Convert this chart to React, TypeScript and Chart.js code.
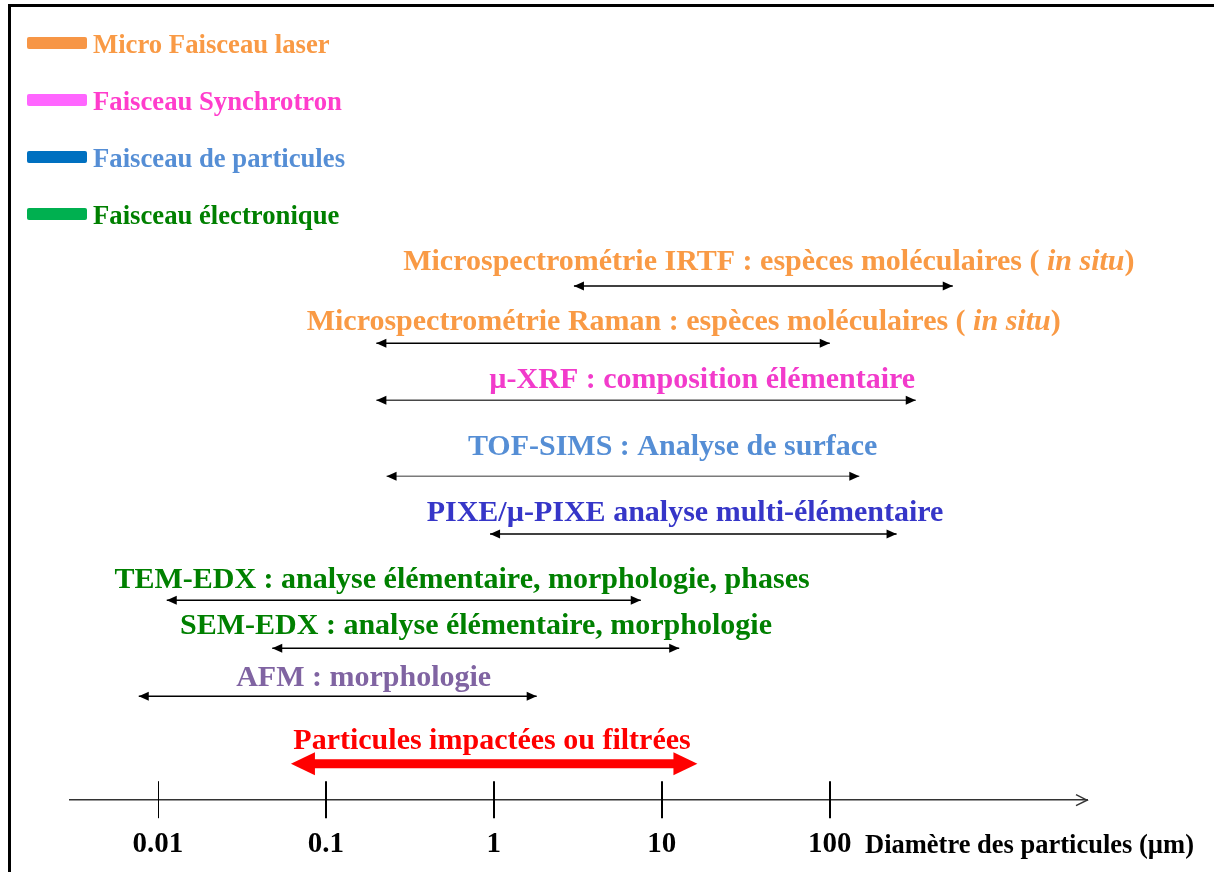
import React, { useEffect, useRef } from 'react';
import { Chart, registerables } from 'chart.js';

Chart.register(...registerables);

// Legend (beam types)
const legendNames = ['Micro Faisceau laser', 'Faisceau Synchrotron', 'Faisceau de particules', 'Faisceau électronique'];
const legendBarColors = ['#F79646', '#FF66FF', '#0070C0', '#00B050'];
const legendTextColors = ['#F99A45', '#FF3DCC', '#558ED5', '#008000'];

// Techniques (text between _ _ is italic)
const techniques = [
  'Microspectrométrie IRTF : espèces moléculaires ( _in situ_)',
  'Microspectrométrie Raman : espèces moléculaires ( _in situ_)',
  'µ-XRF : composition élémentaire',
  'TOF-SIMS : Analyse de surface',
  'PIXE/µ-PIXE analyse multi-élémentaire',
  'TEM-EDX : analyse élémentaire, morphologie, phases',
  'SEM-EDX : analyse élémentaire, morphologie',
  'AFM : morphologie',
  'Particules impactées ou filtrées',
];
// particle diameter range (µm) covered by each technique
const minDiameter = [3, 0.2, 0.2, 0.23, 0.95, 0.0113, 0.048, 0.0077, 0.062];
const maxDiameter = [540, 100, 325, 150, 250, 7.5, 12.7, 1.8, 16.3];
// vertical row of each range arrow
const rowLevel = [9, 8, 7, 5.67, 4.66, 3.5, 2.66, 1.82, 0.64];
// anchor of each label (centre diameter, row)
const labelCenter = [43.4, 13.5, 17.4, 11.6, 13.75, 0.647, 0.784, 0.168, 0.976];
const labelLevel = [9.29, 8.23, 7.21, 6.05, 4.88, 3.72, 2.91, 2.0, 0.89];
const labelColors = ['#F99A45', '#F99A45', '#F23BCB', '#558ED5', '#3636C8', '#008000', '#008000', '#8064A2', '#FF0000'];
const arrowColors = ['#000000', '#000000', '#474747', '#7A7A7A', '#000000', '#000000', '#000000', '#000000', '#FF0000'];

// axis
const tickValues = [0.01, 0.1, 1, 10, 100];
const tickLabels = ['0.01', '0.1', '1', '10', '100'];
const axisTitle = 'Diamètre des particules (µm)';

const SERIF = "'Liberation Serif', 'Times New Roman', serif";
const VIEW_W = 1214;
const VIEW_H = 872;
const CANVAS_H = 900;

function drawRich(ctx: CanvasRenderingContext2D, text: string, cx: number, baseY: number, size: number, color: string) {
  const parts = text.split('_');
  const fonts = parts.map((_, i) => (i % 2 === 1 ? `italic bold ${size}px ${SERIF}` : `bold ${size}px ${SERIF}`));
  let total = 0;
  const widths = parts.map((p, i) => {
    ctx.font = fonts[i];
    const w = ctx.measureText(p).width;
    total += w;
    return w;
  });
  let x = cx - total / 2;
  ctx.fillStyle = color;
  ctx.textAlign = 'left';
  ctx.textBaseline = 'alphabetic';
  parts.forEach((p, i) => {
    ctx.font = fonts[i];
    ctx.fillText(p, x, baseY);
    x += widths[i];
  });
}

const diagramPlugin = {
  id: 'diagram',
  beforeDraw(chart: any) {
    const ctx = chart.ctx;
    ctx.save();
    ctx.fillStyle = '#ffffff';
    ctx.fillRect(0, 0, chart.width, chart.height);
    ctx.restore();
  },
  afterDatasetsDraw(chart: any) {
    const ctx: CanvasRenderingContext2D = chart.ctx;
    const xs = chart.scales.x;
    const ys = chart.scales.y;
    const area = chart.chartArea;
    ctx.save();

    // frame
    ctx.strokeStyle = '#000000';
    ctx.lineWidth = 3;
    ctx.strokeRect(9.5, 5.5, chart.width + 50, chart.height + 50);

    // legend
    legendNames.forEach((name, i) => {
      const cy = 43 + i * 57;
      ctx.fillStyle = legendBarColors[i];
      ctx.beginPath();
      (ctx as any).roundRect(27, cy - 6, 60, 12, 2);
      ctx.fill();
      ctx.font = `bold 26.7px ${SERIF}`;
      ctx.fillStyle = legendTextColors[i];
      ctx.textAlign = 'left';
      ctx.textBaseline = 'alphabetic';
      ctx.fillText(name, 93, cy + 10);
    });

    // arrows
    chart.data.datasets.forEach((ds: any, i: number) => {
      const meta = chart.getDatasetMeta(i);
      const p0 = meta.data[0];
      const p1 = meta.data[1];
      if (!p0 || !p1) return;
      const big = i === techniques.length - 1;
      const len = big ? 24 : 10;
      const half = big ? 11.5 : 4.5;
      ctx.fillStyle = big ? arrowColors[i] : '#000000';
      if (big) {
        ctx.strokeStyle = arrowColors[i];
        ctx.lineWidth = 9;
        ctx.beginPath();
        ctx.moveTo(p0.x + len - 1, p0.y);
        ctx.lineTo(p1.x - len + 1, p1.y);
        ctx.stroke();
      }
      ctx.beginPath();
      ctx.moveTo(p0.x, p0.y);
      ctx.lineTo(p0.x + len, p0.y - half);
      ctx.lineTo(p0.x + len, p0.y + half);
      ctx.closePath();
      ctx.fill();
      ctx.beginPath();
      ctx.moveTo(p1.x, p1.y);
      ctx.lineTo(p1.x - len, p1.y - half);
      ctx.lineTo(p1.x - len, p1.y + half);
      ctx.closePath();
      ctx.fill();
    });

    // labels
    techniques.forEach((t, i) => {
      drawRich(ctx, t, xs.getPixelForValue(labelCenter[i]), ys.getPixelForValue(labelLevel[i]), 30, labelColors[i]);
    });

    // axis ticks
    const axisY = area.bottom;
    ctx.strokeStyle = '#000000';
    tickValues.forEach((v, i) => {
      const px = Math.round(xs.getPixelForValue(v)) + (i === 0 ? 0.5 : 0);
      ctx.lineWidth = i === 0 ? 1 : 2;
      ctx.beginPath();
      ctx.moveTo(px, axisY - 19);
      ctx.lineTo(px, axisY + 18);
      ctx.stroke();
    });
    // axis arrow head (open)
    ctx.strokeStyle = '#333333';
    ctx.lineWidth = 1.5;
    ctx.beginPath();
    ctx.moveTo(area.right - 11, axisY - 5.5);
    ctx.lineTo(area.right, axisY);
    ctx.lineTo(area.right - 11, axisY + 5.5);
    ctx.stroke();

    // axis title
    ctx.font = `bold 26.5px ${SERIF}`;
    ctx.fillStyle = '#000000';
    ctx.textAlign = 'left';
    ctx.textBaseline = 'alphabetic';
    ctx.fillText(axisTitle, 865, axisY + 53);

    ctx.restore();
  },
};

export default function App() {
  const ref = useRef<HTMLCanvasElement | null>(null);

  useEffect(() => {
    if (!ref.current) return;
    const datasets = techniques.map((t, i) => ({
      label: t.replace(/_/g, ''),
      data: [
        { x: minDiameter[i], y: rowLevel[i] },
        { x: maxDiameter[i], y: rowLevel[i] },
      ],
      showLine: i !== techniques.length - 1,
      borderColor: arrowColors[i],
      backgroundColor: arrowColors[i],
      borderWidth: 1.5,
      pointRadius: 0,
      pointHoverRadius: 0,
      clip: false as any,
    }));

    const chart = new Chart(ref.current, {
      type: 'scatter',
      data: { datasets },
      options: {
        responsive: false,
        animation: false,
        devicePixelRatio: 1,
        layout: { padding: { left: 70, right: 127, top: 229, bottom: 11 } },
        plugins: { legend: { display: false }, tooltip: { enabled: false } },
        events: [],
        scales: {
          x: {
            type: 'logarithmic',
            min: 0.003,
            max: 3400,
            afterBuildTicks: (scale: any) => {
              scale.ticks = tickValues.map((v) => ({ value: v }));
            },
            ticks: {
              callback: (_v: any, index: number) => tickLabels[index] ?? '',
              font: { family: SERIF, size: 29, weight: 'bold' },
              color: '#000000',
              padding: 27,
              maxRotation: 0,
              autoSkip: false,
            },
            grid: { display: false, drawTicks: false },
            border: { display: true, color: '#333333', width: 1.5 },
          },
          y: { type: 'linear', display: false, min: 0, max: 10 },
        },
      },
      plugins: [diagramPlugin],
    });
    return () => chart.destroy();
  }, []);

  return (
    <div style={{ position: 'absolute', left: 0, top: 0, width: VIEW_W, height: VIEW_H, overflow: 'hidden', background: '#fff' }}>
      <canvas ref={ref} width={VIEW_W} height={CANVAS_H} style={{ display: 'block' }} />
    </div>
  );
}
